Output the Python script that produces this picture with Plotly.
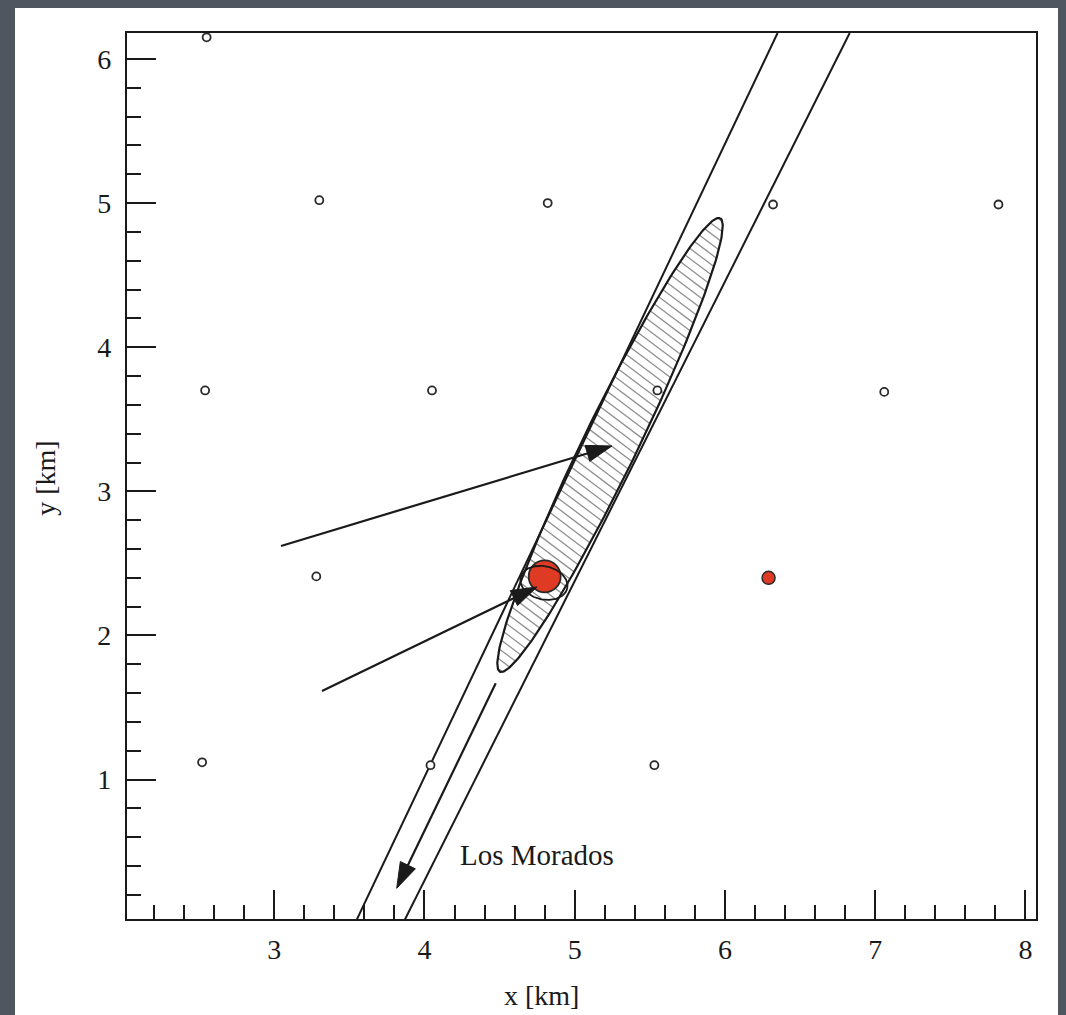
import numpy as np
import plotly.graph_objects as go

# Surface detector stations of the array (km)
station_x = [2.55, 3.30, 4.82, 6.32, 7.82, 2.54, 4.05, 5.55, 7.06, 3.28, 2.52, 4.04, 5.53]
station_y = [6.15, 5.02, 5.00, 4.99, 4.99, 3.70, 3.70, 3.70, 3.69, 2.41, 1.12, 1.10, 1.10]

# Triggered stations (core station and neighbour)
core_x, core_y = [4.80], [2.41]
hit_x, hit_y = [6.29], [2.40]

# Shower-axis uncertainty band (two edges)
band_left_x = [3.55, 6.35]
band_left_y = [0.03, 6.18]
band_right_x = [3.87, 6.83]
band_right_y = [0.03, 6.18]

# Core-position error ellipse: centre, semi-axes (km), orientation (deg)
core_ell = dict(cx=5.235, cy=3.322, a=1.735, b=0.181, ang=65.05)
# Small ellipse around the core station
small_ell = dict(cx=4.795, cy=2.365, a=0.16, b=0.115, ang=-15.0)

# Arrows: (tail x, tail y, tip x, tip y)
arrows = [
    (3.045, 2.621, 5.248, 3.315),
    (3.318, 1.615, 4.749, 2.337),
    (4.474, 1.669, 3.815, 0.246),
]

site_label = "Los Morados"
site_pos = (4.22, 0.48)

x_range = [2.02, 8.07]
y_range = [0.033, 6.18]

# plot-area size in pixels (figure size minus margins)
W, H = 1066, 1015
M = dict(l=127, r=30, t=33, b=96)
plot_w = W - M["l"] - M["r"]
plot_h = H - M["t"] - M["b"]
px_per_x = plot_w / (x_range[1] - x_range[0])
px_per_y = plot_h / (y_range[1] - y_range[0])


def ellipse_xy(cx, cy, a, b, ang, n=240):
    t = np.linspace(0, 2 * np.pi, n)
    th = np.radians(ang)
    x = cx + a * np.cos(t) * np.cos(th) - b * np.sin(t) * np.sin(th)
    y = cy + a * np.cos(t) * np.sin(th) + b * np.sin(t) * np.cos(th)
    return x, y


def hatch_segments(cx, cy, a, b, ang, hatch_deg=-37.0, spacing_px=8.2):
    """Parallel hatch lines (fixed on-screen angle) clipped to the ellipse."""
    th = np.radians(ang)
    ph = np.radians(hatch_deg)
    d = np.array([np.cos(ph) / px_per_x, np.sin(ph) / px_per_y])
    nrm = np.array([-np.sin(ph) / px_per_x, np.cos(ph) / px_per_y]) * spacing_px
    rot = np.array([[np.cos(th), np.sin(th)], [-np.sin(th), np.cos(th)]])
    dq = rot @ d
    xs, ys = [], []
    for k in range(-200, 201):
        p0 = np.array([cx, cy]) + k * nrm
        q0 = rot @ (p0 - np.array([cx, cy]))
        A = (dq[0] / a) ** 2 + (dq[1] / b) ** 2
        B = 2 * (q0[0] * dq[0] / a ** 2 + q0[1] * dq[1] / b ** 2)
        C = (q0[0] / a) ** 2 + (q0[1] / b) ** 2 - 1
        disc = B * B - 4 * A * C
        if disc <= 0:
            continue
        t1 = (-B - np.sqrt(disc)) / (2 * A)
        t2 = (-B + np.sqrt(disc)) / (2 * A)
        for t in (t1, t2):
            xs.append(p0[0] + t * d[0])
            ys.append(p0[1] + t * d[1])
        xs.append(None)
        ys.append(None)
    return xs, ys


INK = "#1a1a1a"
SERIF = "Liberation Serif"

fig = go.Figure()

# error ellipse: hatching, then outline
hx, hy = hatch_segments(**core_ell)
fig.add_trace(go.Scatter(x=hx, y=hy, mode="lines", line=dict(color="#909090", width=1.3),
                         hoverinfo="skip", showlegend=False))
ex, ey = ellipse_xy(**core_ell)
fig.add_trace(go.Scatter(x=ex, y=ey, mode="lines", line=dict(color=INK, width=2.2),
                         hoverinfo="skip", showlegend=False))

# band edges
for bx, by in ((band_left_x, band_left_y), (band_right_x, band_right_y)):
    fig.add_trace(go.Scatter(x=bx, y=by, mode="lines", line=dict(color=INK, width=2),
                             hoverinfo="skip", showlegend=False))

# stations
fig.add_trace(go.Scatter(
    x=station_x, y=station_y, mode="markers",
    marker=dict(symbol="circle", size=8, color="white", line=dict(color="#2a2a2a", width=1.8)),
    showlegend=False))

# triggered stations
fig.add_trace(go.Scatter(
    x=core_x, y=core_y, mode="markers",
    marker=dict(symbol="circle", size=32, color="#df3a24", line=dict(color="#2a2a2a", width=1.8)),
    showlegend=False))
fig.add_trace(go.Scatter(
    x=hit_x, y=hit_y, mode="markers",
    marker=dict(symbol="circle", size=13, color="#df3a24", line=dict(color="#2a2a2a", width=1.5)),
    showlegend=False))

# small ellipse around the core station
sx, sy = ellipse_xy(**small_ell)
fig.add_trace(go.Scatter(x=sx, y=sy, mode="lines", line=dict(color=INK, width=1.8),
                         hoverinfo="skip", showlegend=False))

# arrows with filled heads oriented along the shaft
for x0, y0, x1, y1 in arrows:
    fig.add_trace(go.Scatter(
        x=[x0, x1], y=[y0, y1], mode="lines+markers",
        line=dict(color=INK, width=2.2),
        marker=dict(symbol=["circle", "arrow"], size=[0, 27], angleref="previous",
                    color=INK, opacity=1, line=dict(width=1, color=INK)),
        opacity=1, hoverinfo="skip", showlegend=False))

fig.add_annotation(x=site_pos[0], y=site_pos[1], text=site_label, showarrow=False,
                   xanchor="left", yanchor="middle",
                   font=dict(family=SERIF, size=29, color=INK))

# axis titles
fig.add_annotation(xref="paper", yref="paper", x=0.456, y=-0.086, text="x [km]",
                   showarrow=False, xanchor="center", yanchor="middle",
                   font=dict(family=SERIF, size=28, color=INK))
fig.add_annotation(xref="paper", yref="paper", x=-0.090, y=0.497, text="y [km]",
                   showarrow=False, textangle=-90, xanchor="center", yanchor="middle",
                   font=dict(family=SERIF, size=28, color=INK))

# white panel behind the chart
fig.add_shape(type="rect", xref="paper", yref="paper", layer="below",
              x0=-0.1232, x1=1.0242, y0=-0.13, y1=1.0282,
              fillcolor="white", line=dict(width=0))

axis_common = dict(
    showgrid=False, zeroline=False, showline=True, mirror=True,
    linecolor=INK, linewidth=2.2,
    ticks="inside", ticklen=29, tickwidth=2, tickcolor=INK,
    dtick=1, tick0=0,
    tickfont=dict(family=SERIF, size=28, color=INK),
    minor=dict(ticks="inside", dtick=0.2, ticklen=14, tickwidth=2, tickcolor=INK),
)

fig.update_xaxes(range=x_range, ticklabelstandoff=4, **axis_common)
fig.update_yaxes(range=y_range, ticklabelstandoff=8, **axis_common)

fig.update_layout(
    width=W, height=H,
    margin=M,
    paper_bgcolor="#50565f", plot_bgcolor="white",
)

fig.write_html("out.html")
